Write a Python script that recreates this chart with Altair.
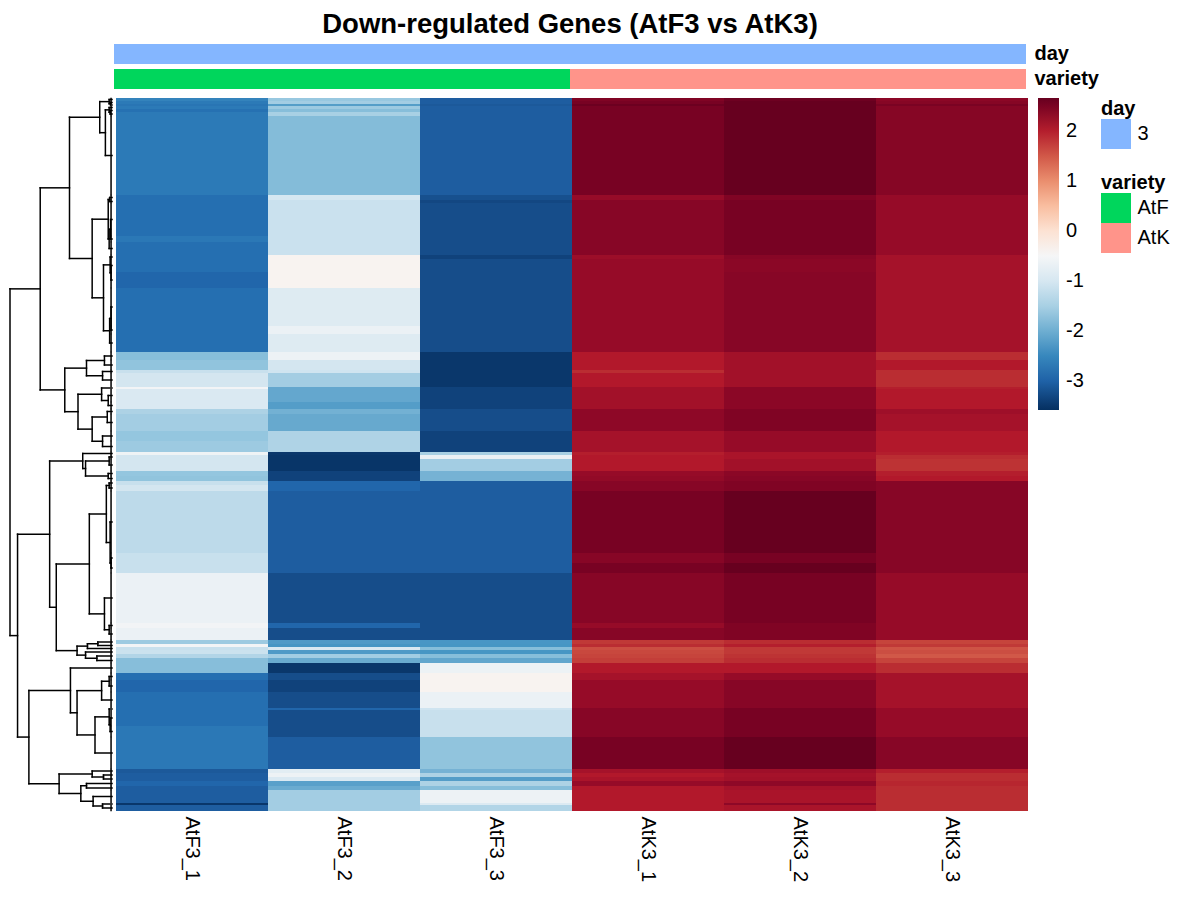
import altair as alt
import pandas as pd

# samples and their annotations
samples = ['AtF3_1', 'AtF3_2', 'AtF3_3', 'AtK3_1', 'AtK3_2', 'AtK3_3']
day = ['3', '3', '3', '3', '3', '3']
variety = ['AtF', 'AtF', 'AtF', 'AtK', 'AtK', 'AtK']
day_colors = {'3': '#84B6FF'}
variety_colors = {'AtF': '#00D65C', 'AtK': '#FF948A'}

# genes grouped into blocks of (nearly) identical rows, top to bottom
block_sizes = [3, 3, 2, 3, 3, 4, 79, 5, 3, 33, 6, 13, 4, 13, 16, 38, 8, 18,
               8, 10, 3, 14, 2, 13, 7, 5, 17, 10, 11, 3, 4, 12, 5, 5, 4, 6,
               62, 10, 10, 50, 5, 12, 4, 3, 3, 4, 4, 5, 10, 7, 12, 16, 2, 16,
               11, 32, 4, 4, 4, 5, 4, 13, 2, 6]

AtF3_1 = [-2.55, -2.68, -2.75, -2.68, -2.8, -2.68, -2.68, -2.83, -2.83, -2.83,
          -2.71, -2.83, -2.83, -2.83, -2.96, -2.83, -2.83, -2.83, -1.8, -1.72,
          -1.18, -1.04, -0.55, -0.94, -0.94, -1.45, -1.55, -1.69, -1.6, -0.6,
          -1.04, -1.04, -1.69, -1.72, -1.18, -1.04, -1.29, -1.18, -1.18, -0.66,
          -0.55, -0.66, -1.6, -0.55, -1.18, -1.15, -1.4, -1.8, -1.8, -2.83,
          -2.96, -2.83, -2.83, -2.83, -2.71, -2.71, -3.1, -3.05, -3.05, -2.96,
          -3.05, -3.05, -3.5, -3.05]
AtF3_2 = [-1.65, -1.55, -2.2, -1.6, -1.8, -1.5, -1.82, -1.02, -1.16, -1.16,
          -1.16, -1.16, -0.37, -0.37, -0.37, -0.87, -0.66, -0.87, -0.63, -1.04,
          -1.1, -1.55, -2.08, -2.08, -2.21, -1.96, -2.06, -1.43, -1.43, -3.49,
          -3.52, -3.52, -3.36, -3.36, -2.96, -2.96, -3.05, -3.05, -3.05, -3.23,
          -2.96, -3.23, -2.24, -2.3, -0.94, -2.24, -1.55, -2.03, -3.49, -3.23,
          -3.36, -3.23, -2.96, -3.23, -3.23, -3.05, -0.8, -0.63, -0.94, -2.17,
          -2.03, -1.55, -1.55, -1.55]
AtF3_3 = [-3.05, -3.05, -3.1, -3.05, -3.05, -3.05, -3.05, -3.2, -3.3, -3.23,
          -3.23, -3.23, -3.36, -3.23, -3.23, -3.23, -3.23, -3.23, -3.49, -3.49,
          -3.49, -3.49, -3.36, -3.36, -3.36, -3.23, -3.23, -3.36, -3.36, -1.5,
          -0.66, -1.55, -1.94, -1.94, -3.05, -3.05, -3.05, -3.05, -3.05, -3.23,
          -3.23, -3.23, -2.29, -2.3, -1.8, -2.3, -1.8, -2.1, -0.63, -0.37,
          -0.37, -0.66, -1.1, -1.18, -1.18, -1.72, -1.94, -1.45, -2.21, -1.45,
          -1.8, -0.63, -0.9, -1.4]
AtK3_1 = [2.45, 2.52, 2.62, 2.52, 2.52, 2.52, 2.52, 2.27, 2.39, 2.39,
          2.39, 2.39, 2.22, 2.27, 2.27, 2.27, 2.27, 2.27, 2.04, 2.04,
          1.9, 2.04, 2.17, 2.17, 2.17, 2.33, 2.33, 2.14, 2.14, 2.0,
          2.04, 2.04, 2.27, 2.3, 2.39, 2.39, 2.52, 2.39, 2.52, 2.39,
          2.27, 2.39, 1.8, 1.9, 1.6, 1.66, 1.7, 1.75, 2.04, 2.14,
          2.27, 2.27, 2.39, 2.39, 2.39, 2.52, 2.14, 2.04, 2.1, 2.27,
          2.04, 2.04, 2.04, 2.04]
AtK3_2 = [2.6, 2.66, 2.66, 2.66, 2.66, 2.66, 2.66, 2.45, 2.52, 2.52,
          2.52, 2.52, 2.39, 2.36, 2.39, 2.39, 2.39, 2.39, 2.17, 2.17,
          2.17, 2.17, 2.36, 2.36, 2.36, 2.45, 2.45, 2.27, 2.27, 2.1,
          2.1, 2.17, 2.36, 2.39, 2.45, 2.45, 2.66, 2.52, 2.66, 2.52,
          2.45, 2.45, 1.9, 2.0, 1.8, 1.8, 1.85, 1.9, 2.04, 2.27,
          2.39, 2.39, 2.52, 2.52, 2.52, 2.66, 2.2, 2.14, 2.17, 2.33,
          2.14, 2.1, 2.33, 2.1]
AtK3_3 = [2.35, 2.4, 2.5, 2.4, 2.4, 2.4, 2.4, 2.27, 2.27, 2.27,
          2.27, 2.27, 2.14, 2.14, 2.14, 2.14, 2.14, 2.14, 1.9, 2.04,
          1.9, 1.9, 2.0, 2.04, 2.04, 2.2, 2.14, 2.04, 2.04, 2.0,
          1.9, 1.85, 2.0, 2.04, 2.39, 2.39, 2.39, 2.39, 2.39, 2.27,
          2.27, 2.27, 1.7, 1.8, 1.55, 1.6, 1.5, 1.7, 1.9, 2.14,
          2.14, 2.14, 2.27, 2.27, 2.27, 2.39, 2.0, 1.9, 1.9, 1.95,
          1.9, 1.9, 1.9, 1.9]

# colour bar limits and the RdBu palette (low -> high)
value_min, value_max = -3.58, 2.66
rdbu = ['#053061', '#2166ac', '#4393c3', '#92c5de', '#d1e5f0', '#f7f7f7',
        '#fddbc7', '#f4a582', '#d6604d', '#b2182b', '#67001f']
legend_ticks = [-3, -2, -1, 0, 1, 2]


# row dendrogram as (height, left, right); leaves are block numbers (1-based)
def N(h, a, b):
    return (h, a, b)


row_tree = N(10.8,
    N(7.6,
        N(4.5,
            N(1.3, N(0.3, 1, N(0.15, 2, 3)), N(0.7, N(0.3, 4, N(0.2, 5, 6)), 7)),
            N(2.1,
                N(0.4, N(0.25, 8, 9), N(0.3, N(0.15, 10, 11), 12)),
                N(0.9, N(0.2, 13, N(0.1, 14, 15)), N(0.25, N(0.1, 16, 17), 18)))),
        N(5.0,
            N(2.7, N(0.8, 19, 20), N(1.0, 21, 22)),
            N(3.6, N(1.1, 23, N(0.4, 24, 25)), N(2.1, N(0.5, 26, 27), N(1.0, 28, 29))))),
    N(10.0,
        N(6.6,
            N(3.1, 30, N(2.8, N(0.3, 31, 32), N(0.4, 33, 34))),
            N(5.9,
                N(2.4, N(0.6, N(0.3, 35, 36), N(0.2, 37, N(0.1, 38, 39))),
                  N(0.8, 40, N(0.3, 41, 42))),
                N(3.7, N(2.6, N(1.5, 43, 44), 45), N(2.8, 46, N(1.6, 47, 48))))),
        N(8.8,
            N(4.4, 49, N(3.7, N(1.1, N(0.3, 50, 51), 52),
                         N(1.8, N(0.3, 53, N(0.2, 54, 55)), 56))),
            N(5.6, N(2.1, 57, N(0.9, 58, 59)),
                   N(3.3, N(2.7, 60, 61), N(2.0, 62, N(1.0, 63, 64)))))))

title = 'Down-regulated Genes (AtF3 vs AtK3)'
FONT = 'Liberation Sans'

# ---- heatmap table ----
starts, ends = [], []
pos = 0
for n in block_sizes:
    starts.append(pos)
    pos += n
    ends.append(pos)
n_rows = pos

columns = {'AtF3_1': AtF3_1, 'AtF3_2': AtF3_2, 'AtF3_3': AtF3_3,
           'AtK3_1': AtK3_1, 'AtK3_2': AtK3_2, 'AtK3_3': AtK3_3}
heat_rows = []
for s in samples:
    for i, v in enumerate(columns[s]):
        heat_rows.append({'sample': s, 'start': starts[i], 'end': ends[i], 'value': v})
heat_df = pd.DataFrame(heat_rows)

# ---- dendrogram segments ----
segs = []


def walk(node):
    if isinstance(node, int):
        i = node - 1
        return (starts[i] + ends[i]) / 2, 0.0
    h, a, b = node
    ya, ha = walk(a)
    yb, hb = walk(b)
    segs.append({'h0': ha, 'h1': h, 'y0': ya, 'y1': ya})
    segs.append({'h0': hb, 'h1': h, 'y0': yb, 'y1': yb})
    segs.append({'h0': h, 'h1': h, 'y0': ya, 'y1': yb})
    return (ya + yb) / 2, h


walk(row_tree)
# the many near-zero merges inside each block
for i, n in enumerate(block_sizes):
    if n > 2:
        segs.append({'h0': 0.1, 'h1': 0.1, 'y0': starts[i] + 0.5, 'y1': ends[i] - 0.5})
seg_df = pd.DataFrame(segs)

row_scale = alt.Scale(domain=[0, n_rows], reverse=True, nice=False, zero=False)
step = (value_max - value_min) / (len(rdbu) - 1)
color_scale = alt.Scale(domain=[round(value_min + k * step, 4) for k in range(len(rdbu))],
                        range=rdbu)
col_scale = alt.Scale(paddingInner=0, paddingOuter=0)

dendro = alt.Chart(seg_df).mark_rule(color='black', strokeWidth=1.5, strokeCap='square').encode(
    x=alt.X('h0:Q', scale=alt.Scale(domain=[0, 10.8], reverse=True, nice=False, zero=False), axis=None),
    x2='h1:Q',
    y=alt.Y('y0:Q', scale=row_scale, axis=None),
    y2='y1:Q'
).properties(width=102, height=n_rows)

heat = alt.Chart(heat_df).mark_rect().encode(
    x=alt.X('sample:N', sort=samples, scale=col_scale,
            axis=alt.Axis(title=None, labelAngle=90, labelFontSize=20, labelPadding=5,
                          ticks=False, domain=False, labelColor='black')),
    y=alt.Y('start:Q', scale=row_scale, axis=None),
    y2='end:Q',
    color=alt.Color('value:Q', scale=color_scale,
                    legend=alt.Legend(title=None, orient='right', offset=10,
                                      gradientLength=312, gradientThickness=21,
                                      gradientStrokeWidth=0, values=legend_ticks,
                                      labelExpr="'' + datum.value",
                                      labelFontSize=20, labelColor='black',
                                      labelOffset=7))
).properties(width=912, height=n_rows)

# ---- column annotation bars ----
annot_rows = []
for s, d, v in zip(samples, day, variety):
    annot_rows.append({'sample': s, 'track': 'day', 'fill': day_colors[d]})
    annot_rows.append({'sample': s, 'track': 'variety', 'fill': variety_colors[v]})
annot_df = pd.DataFrame(annot_rows)

annot = alt.Chart(annot_df).mark_rect().encode(
    x=alt.X('sample:N', sort=samples, scale=col_scale, axis=None),
    y=alt.Y('track:N', sort=['day', 'variety'], scale=alt.Scale(paddingInner=0.2, paddingOuter=0),
            axis=alt.Axis(orient='right', title=None, ticks=False, domain=False,
                          labelFontSize=20, labelFontWeight='bold', labelPadding=8,
                          labelColor='black')),
    fill=alt.Fill('fill:N', scale=None)
).properties(width=912, height=45,
             title=alt.TitleParams(title, fontSize=27.5, fontWeight='bold', anchor='middle',
                                   frame='group', offset=5, color='black'))


def spacer(w, h):
    return alt.Chart(pd.DataFrame({'a': [0]})).mark_point(opacity=0, size=0).encode(
        x=alt.value(0), y=alt.value(0)
    ).properties(width=w, height=h)


# ---- annotation legends ----
def cat_legend(name, colors):
    levels = list(colors)
    df = pd.DataFrame({'level': levels, 'fill': [colors[l] for l in levels]})
    return alt.Chart(df).mark_rect().encode(
        x=alt.value(0), x2=alt.value(30),
        y=alt.Y('level:N', sort=levels, scale=alt.Scale(paddingInner=0, paddingOuter=0),
                axis=alt.Axis(orient='right', title=None, ticks=False, domain=False,
                              labelFontSize=20, labelPadding=6, labelColor='black')),
        fill=alt.Fill('fill:N', scale=None)
    ).properties(width=30, height=30 * len(levels),
                 title=alt.TitleParams(name, anchor='start', fontSize=20, fontWeight='bold',
                                       offset=0, color='black'))


legends = alt.vconcat(
    spacer(30, 1),
    alt.vconcat(cat_legend('day', day_colors), cat_legend('variety', variety_colors),
                spacing=24),
    spacing=0)

top_row = alt.hconcat(spacer(102, 45), annot, spacing=2)
body = alt.hconcat(dendro, heat, spacing=2).resolve_legend(color='independent')
bottom_row = alt.hconcat(body, legends, spacing=17).resolve_legend(color='independent')

chart = alt.vconcat(top_row, bottom_row, spacing=8).resolve_legend(
    color='independent'
).properties(
    padding={'left': 0, 'top': 3, 'right': 5, 'bottom': 5}
).configure(font=FONT).configure_view(stroke=None)

chart.save('out.html', embed_options={'renderer': 'svg', 'actions': False})
